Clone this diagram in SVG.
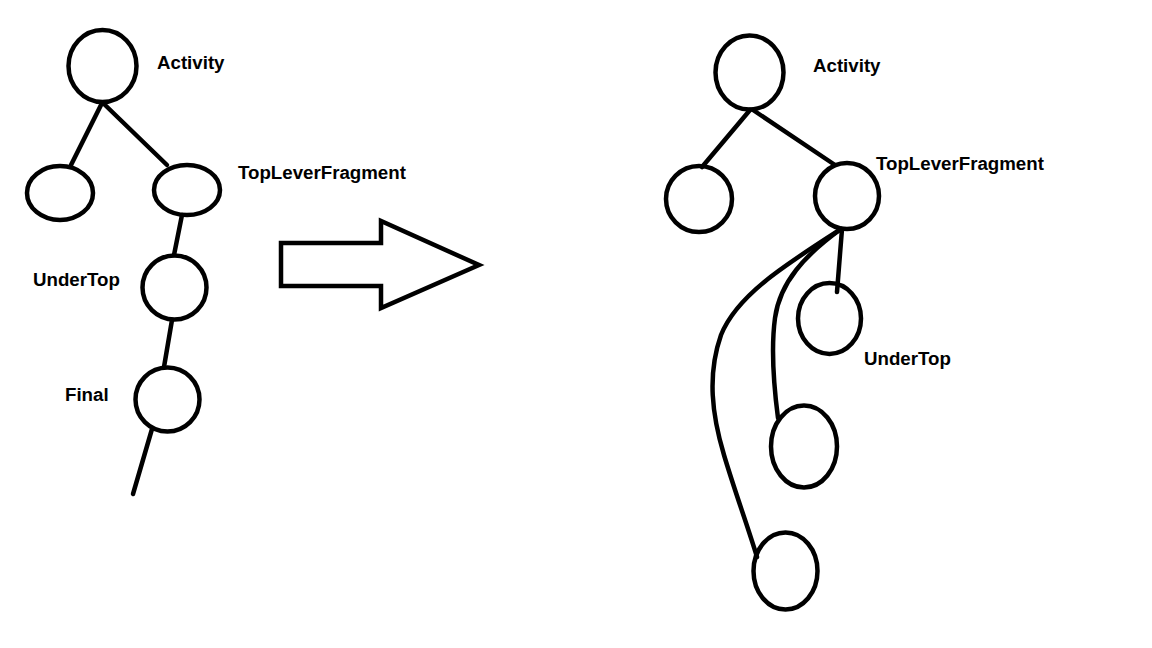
<svg xmlns="http://www.w3.org/2000/svg" width="1152" height="648" viewBox="0 0 1152 648">
<style>
.n{fill:none;stroke:#000;stroke-width:4.5}
.e{fill:none;stroke:#000;stroke-width:4.5;stroke-linecap:round}
.t{font-family:"Liberation Sans",Arial,sans-serif;font-weight:bold;font-size:18.7px;fill:#000}
</style>
<rect width="1152" height="648" fill="#fff"/>
<g id="connectors">
<line class="e" x1="102" y1="103" x2="71" y2="165"/>
<line class="e" x1="103" y1="103" x2="167" y2="165"/>
<line class="e" x1="182" y1="215" x2="174" y2="255"/>
<line class="e" x1="172" y1="320" x2="164" y2="367"/>
<line class="e" x1="152" y1="429" x2="133" y2="494"/>
<line class="e" x1="750" y1="110" x2="702" y2="167"/>
<line class="e" x1="753" y1="110" x2="835" y2="165"/>
<line class="e" x1="842" y1="229" x2="837" y2="292"/>
<path class="e" d="M841,229 C805,255 780,282 775,318 C770,355 775,395 778,418"/>
<path class="e" d="M841,229 C785,265 737,295 721,335 C707,375 712,415 724,455 C735,492 748,527 757,557"/>
</g>
<g id="arrow"><polygon class="n" points="281,243 381,243 381,221 479,265 381,308 381,286 281,286" stroke-linejoin="miter"/></g>
<g id="activity-l"><ellipse class="n" cx="102.5" cy="66" rx="34" ry="36"/><text class="t" x="157" y="69">Activity</text></g>
<g id="left-l"><ellipse class="n" cx="60" cy="193" rx="33" ry="27"/></g>
<g id="toplever-l"><ellipse class="n" cx="187" cy="190" rx="33" ry="25"/><text class="t" x="238" y="179">TopLeverFragment</text></g>
<g id="undertop-l"><ellipse class="n" cx="174.5" cy="287.5" rx="32" ry="32"/><text class="t" x="33" y="286">UnderTop</text></g>
<g id="final-l"><ellipse class="n" cx="167.5" cy="399.5" rx="32" ry="32"/><text class="t" x="65" y="401">Final</text></g>
<g id="activity-r"><ellipse class="n" cx="749.5" cy="72.5" rx="34" ry="37"/><text class="t" x="813" y="72">Activity</text></g>
<g id="left-r"><ellipse class="n" cx="699" cy="199" rx="33" ry="33"/></g>
<g id="toplever-r"><ellipse class="n" cx="847" cy="196" rx="32" ry="33"/><text class="t" x="876" y="170">TopLeverFragment</text></g>
<g id="undertop-r"><ellipse class="n" cx="829.5" cy="318.5" rx="31.5" ry="35.5"/><text class="t" x="864" y="365">UnderTop</text></g>
<g id="mid-r"><ellipse class="n" cx="804" cy="446.5" rx="33" ry="41"/></g>
<g id="bottom-r"><ellipse class="n" cx="785.5" cy="571" rx="32" ry="38.5"/></g>
</svg>
